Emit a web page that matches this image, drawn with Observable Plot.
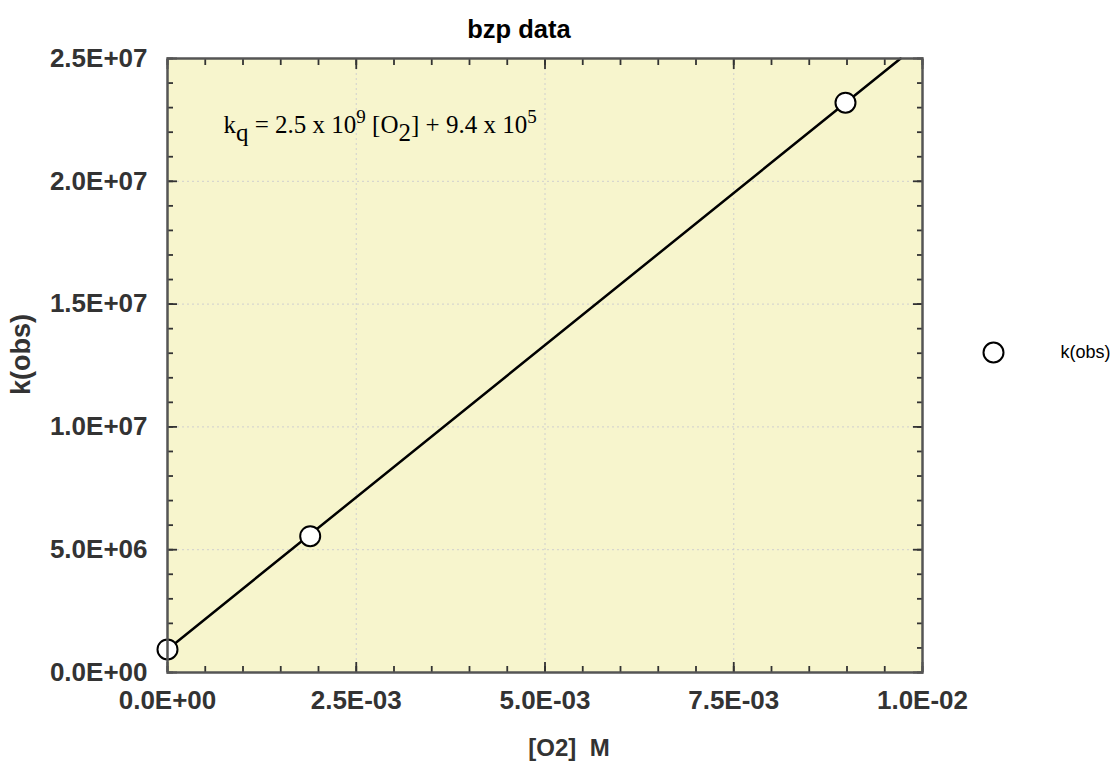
<!DOCTYPE html>
<html>
<head>
<meta charset="utf-8">
<script src="https://cdn.jsdelivr.net/npm/d3@7"></script>
<script src="https://cdn.jsdelivr.net/npm/@observablehq/plot@0.6"></script>
<style>
  html, body { margin: 0; padding: 0; background: #fff; }
</style>
</head>
<body>
<div id="chart"></div>
<script>
// ---- data ----
const o2 = [0, 0.00189, 0.00898];          // [O2] M
const kobs = [9.4e5, 5.55e6, 2.32e7];      // k(obs)
const fitX = [0, 0.00971];                 // fit line endpoints
const fitY = [9.4e5, 2.5e7];
const xTicks = [0, 0.0025, 0.005, 0.0075, 0.01];
const xTickLabels = ["0.0E+00", "2.5E-03", "5.0E-03", "7.5E-03", "1.0E-02"];
const yTicks = [0, 5e6, 1e7, 1.5e7, 2e7, 2.5e7];
const yTickLabels = ["0.0E+00", "5.0E+06", "1.0E+07", "1.5E+07", "2.0E+07", "2.5E+07"];
const xMinor = d3.range(0, 21).map(i => i * 0.0005);
const yMinor = d3.range(0, 26).map(i => i * 1e6);
const title = "bzp data";
const xLabel = "[O2]  M";
const yLabel = "k(obs)";
const seriesName = "k(obs)";

const points = o2.map((x, i) => ({x, y: kobs[i]}));
const fit = fitX.map((x, i) => ({x, y: fitY[i]}));

const tickStyle = {stroke: "#333", strokeWidth: 1.8, label: null};
const labelStyle = {fontSize: 26, fontWeight: "bold", fill: "#333"};

const chart = Plot.plot({
  width: 1117,
  height: 765,
  marginLeft: 167,
  marginRight: 195,
  marginTop: 58,
  marginBottom: 93,
  style: {fontFamily: "'Liberation Sans', Arial, Helvetica, sans-serif", background: "white"},
  x: {domain: [0, 0.01]},
  y: {domain: [0, 2.5e7]},
  marks: [
    Plot.frame({fill: "#F7F5CD", stroke: null}),
    Plot.gridX(xTicks.slice(1, -1), {stroke: "#cfcfcf", strokeOpacity: 1, strokeDasharray: "2,3"}),
    Plot.gridY(yTicks.slice(1, -1), {stroke: "#cfcfcf", strokeOpacity: 1, strokeDasharray: "2,3"}),
    // minor ticks (inward, all sides)
    Plot.axisX(xMinor, {anchor: "bottom", tickSize: -6, tickFormat: () => "", ...tickStyle}),
    Plot.axisX(xMinor, {anchor: "top", tickSize: -6, tickFormat: () => "", ...tickStyle}),
    Plot.axisY(yMinor, {anchor: "left", tickSize: -6, tickFormat: () => "", ...tickStyle}),
    Plot.axisY(yMinor, {anchor: "right", tickSize: -6, tickFormat: () => "", ...tickStyle}),
    // major ticks
    Plot.axisX(xTicks, {anchor: "bottom", tickSize: -10, tickFormat: () => "", ...tickStyle}),
    Plot.axisX(xTicks, {anchor: "top", tickSize: -10, tickFormat: () => "", ...tickStyle}),
    Plot.axisY(yTicks, {anchor: "left", tickSize: -10, tickFormat: () => "", ...tickStyle}),
    Plot.axisY(yTicks, {anchor: "right", tickSize: -10, tickFormat: () => "", ...tickStyle}),
    // tick labels
    Plot.axisX(xTicks, {anchor: "bottom", tickSize: 0, tickPadding: 18, tickFormat: (d, i) => xTickLabels[i], label: null, ...labelStyle}),
    Plot.axisY(yTicks, {anchor: "left", tickSize: 0, tickPadding: 20, tickFormat: (d, i) => yTickLabels[i], label: null, ...labelStyle}),
    // fit line and data
    Plot.line(fit, {x: "x", y: "y", stroke: "black", strokeWidth: 2.5}),
    Plot.dot(points, {x: "x", y: "y", r: 10, fill: "white", stroke: "black", strokeWidth: 2}),
    Plot.frame({stroke: "#555", strokeWidth: 2.5}),
    // annotation
    Plot.text(["EQ"], {frameAnchor: "top-left", dx: 56, dy: 74, lineAnchor: "bottom", textAnchor: "start", className: "eqn", fontFamily: "Liberation Serif, Times New Roman, serif", fontSize: 25, fill: "black"}),
    // titles
    Plot.text([title], {frameAnchor: "top", dx: -26, dy: -39, fontSize: 25.5, fontWeight: "bold", fill: "black"}),
    Plot.text([xLabel], {frameAnchor: "bottom", dx: 24, dy: 83, fontSize: 24, fontWeight: "bold", fill: "#333"}),
    Plot.text([yLabel], {frameAnchor: "left", dx: -146, rotate: -90, fontSize: 27, fontWeight: "bold", fill: "#333", className: "ylab"}),
    // legend
    Plot.dot([seriesName], {frameAnchor: "right", dx: 71, dy: -13, r: 10, fill: "white", stroke: "black", strokeWidth: 2}),
    Plot.text([seriesName], {frameAnchor: "right", dx: 138, dy: -13, textAnchor: "start", fontSize: 18, fill: "black"})
  ]
});

document.getElementById("chart").appendChild(chart);

// Rich text for the equation (sub/superscripts)
const eq = d3.select(chart).select("g.eqn text");
eq.text(null);
const parts = [
  ["k", 0, 25], ["q", 8, 25], [" = 2.5 x 10", -8, 25], ["9", -10, 19], [" [O", 10, 25],
  ["2", 8, 25], ["] + 9.4 x 10", -8, 25], ["5", -10, 19]
];
for (const [t, dy, fs] of parts) {
  eq.append("tspan").attr("dy", dy).attr("font-size", fs).text(t);
}

// Center the rotated y-axis title vertically at the reference position (slightly above frame middle)
const ylab = chart.querySelector("g.ylab");
if (ylab) {
  const bb = ylab.getBBox();
  const cy = bb.y + bb.height / 2;
  const target = 354;
  const prev = ylab.getAttribute("transform") || "";
  ylab.setAttribute("transform", prev + ` translate(0,${target - cy})`);
}
</script>
</body>
</html>
